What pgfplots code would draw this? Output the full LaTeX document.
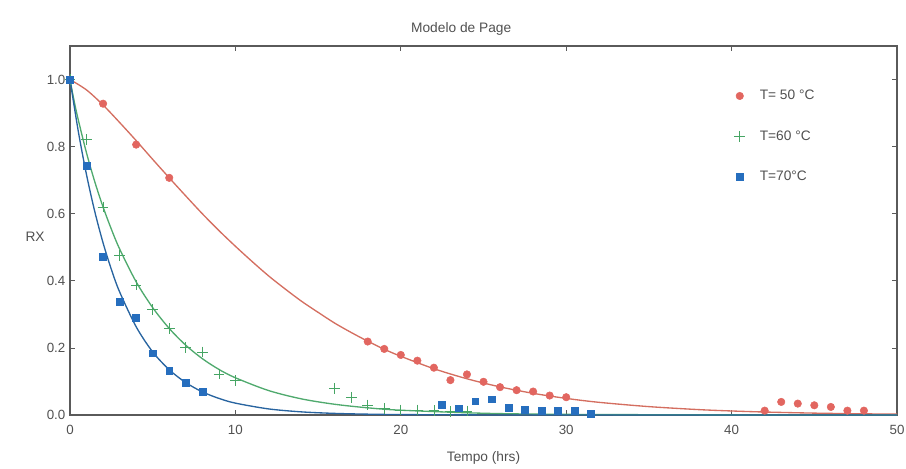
\documentclass[border=0pt]{standalone}
\usepackage{pgfplots}
\pgfplotsset{compat=1.18}
\usepackage{fontspec}
\setmainfont{Liberation Sans}
\definecolor{redc}{RGB}{226,102,96}
\definecolor{redl}{RGB}{212,110,96}
\definecolor{greenc}{RGB}{70,165,100}
\definecolor{greenl}{RGB}{80,170,110}
\definecolor{bluec}{RGB}{38,110,190}
\definecolor{bluel}{RGB}{40,100,160}
\definecolor{txt}{RGB}{80,80,80}
\definecolor{axc}{RGB}{90,90,90}

\pgfplotsset{mylegimg/.style={legend image code/.code={\draw[##1] plot coordinates {(0.27cm,0cm)}; \path (0cm,0cm) (0.72cm,0cm);}}}

\pgfplotstableread{
t rx
0 1.000
2 0.928
4 0.806
6 0.707
18 0.219
19 0.197
20 0.179
21 0.162
22 0.141
23 0.104
24 0.121
25 0.099
26 0.083
27 0.074
28 0.070
29 0.058
30 0.053
42 0.013
43 0.039
44 0.034
45 0.029
46 0.024
47 0.013
48 0.013
}\redpts
\pgfplotstableread{
t rx
0 1.000
1 0.821
2 0.620
3 0.476
4 0.388
5 0.315
6 0.258
7 0.202
8 0.188
9 0.122
10 0.102
16 0.080
17 0.053
18 0.030
19 0.020
20 0.015
21 0.015
22 0.013
23 0.010
24 0.012
}\greenpts
\pgfplotstableread{
t rx
0 1.000
1 0.743
2 0.471
3 0.338
4 0.289
5 0.184
6 0.131
7 0.095
8 0.069
22.5 0.030
23.5 0.020
24.5 0.041
25.5 0.047
26.5 0.021
27.5 0.017
28.5 0.013
29.5 0.013
30.5 0.013
31.5 0.005
}\bluepts
\pgfplotstableread{
t rx
0 1.000
1 0.969
2 0.924
3 0.872
4 0.818
5 0.762
6 0.707
7 0.653
8 0.600
9 0.550
10 0.503
11 0.458
12 0.415
13 0.376
14 0.339
15 0.306
16 0.274
17 0.246
18 0.220
19 0.196
20 0.175
22 0.138
24 0.108
26 0.0838
28 0.0646
30 0.0495
32 0.0377
35 0.0250
38 0.0161
40 0.0120
42 0.0089
45 0.0056
48 0.0035
50 0.0026
}\redfit
\pgfplotstableread{
t rx
0 1.000
0.25 0.936
0.5 0.880
1 0.781
1.5 0.695
2 0.620
2.5 0.554
3 0.495
4 0.397
5 0.320
6 0.258
7 0.208
8 0.168
9 0.136
10 0.111
12 0.073
14 0.048
16 0.032
18 0.0214
20 0.0143
25 0.0052
30 0.0019
40 0.0003
50 0.0000
}\greenfit
\pgfplotstableread{
t rx
0 1.000
0.5 0.846
1 0.716
1.5 0.606
2 0.513
2.5 0.434
3 0.367
4 0.263
5 0.188
6 0.135
7 0.0965
8 0.069
9 0.0495
10 0.0354
12 0.0182
14 0.0093
16 0.0048
18 0.0025
20 0.0013
25 0.0002
30 0.0000
50 0.0000
}\bluefit

\begin{document}
\begin{tikzpicture}
\begin{axis}[
  name=ax, scale only axis, width=620.25pt, height=276.75pt,
  xmin=0, xmax=50, ymin=0, ymax=1.1,
  xtick={0,10,20,30,40,50}, ytick={0,0.2,0.4,0.6,0.8,1.0},
  yticklabel style={/pgf/number format/.cd,fixed,fixed zerofill,precision=1},
  /pgf/number format/assume math mode=true,
  tick align=inside, major tick length=3.5pt,
  axis line style={axc, line width=0.9pt},
  tick style={axc, line width=0.6pt},
  every tick label/.append style={txt, font=\fontsize{10}{12}\selectfont},
  xticklabel style={anchor=center, yshift=-11.25pt},
  title={Modelo de Page},
  title style={at={(0.473,1)}, anchor=center, yshift=6.75pt, txt, font=\fontsize{10.3}{12}\selectfont},
  xlabel={Tempo (hrs)},
  xlabel style={at={(0.5,0)}, anchor=center, yshift=-32.5pt, txt, font=\fontsize{10.3}{12}\selectfont},
  ylabel={RX},
  ylabel style={at={(-0.025,0.483)}, rotate=-90, anchor=east, txt, font=\fontsize{10.3}{12}\selectfont},
  legend style={draw=none, fill=none, at={(axis cs:39.6,0.985)}, anchor=north west,
    row sep=17.5pt, font=\fontsize{10.3}{12}\selectfont, text=txt},
  legend cell align=left,
]
\addplot[redl, line width=1pt, smooth, forget plot] table[x=t,y=rx] {\redfit};
\addplot[greenl, line width=1pt, smooth, forget plot] table[x=t,y=rx] {\greenfit};
\addplot[bluel, line width=1pt, smooth, forget plot] table[x=t,y=rx] {\bluefit};
\addplot[only marks, mark=*, mark size=2.8pt, redc, mark options={draw=redc, fill=redc}, mylegimg] table[x=t,y=rx] {\redpts};
\addlegendentry{T= 50 °C}
\addplot[only marks, mark=+, mark size=4pt, greenc, mark options={draw=greenc, line width=0.5pt}, mylegimg] table[x=t,y=rx] {\greenpts};
\addlegendentry{T=60 °C}
\addplot[only marks, mark=square*, mark size=2.6pt, bluec, mark options={draw=bluec, fill=bluec}, mylegimg] table[x=t,y=rx] {\bluepts};
\addlegendentry{T=70°C}
\end{axis}
\pgfresetboundingbox
\path ([xshift=-52.5pt,yshift=-39.75pt]ax.south west) rectangle ([xshift=6.75pt,yshift=34.5pt]ax.north east);
\end{tikzpicture}
\end{document}
